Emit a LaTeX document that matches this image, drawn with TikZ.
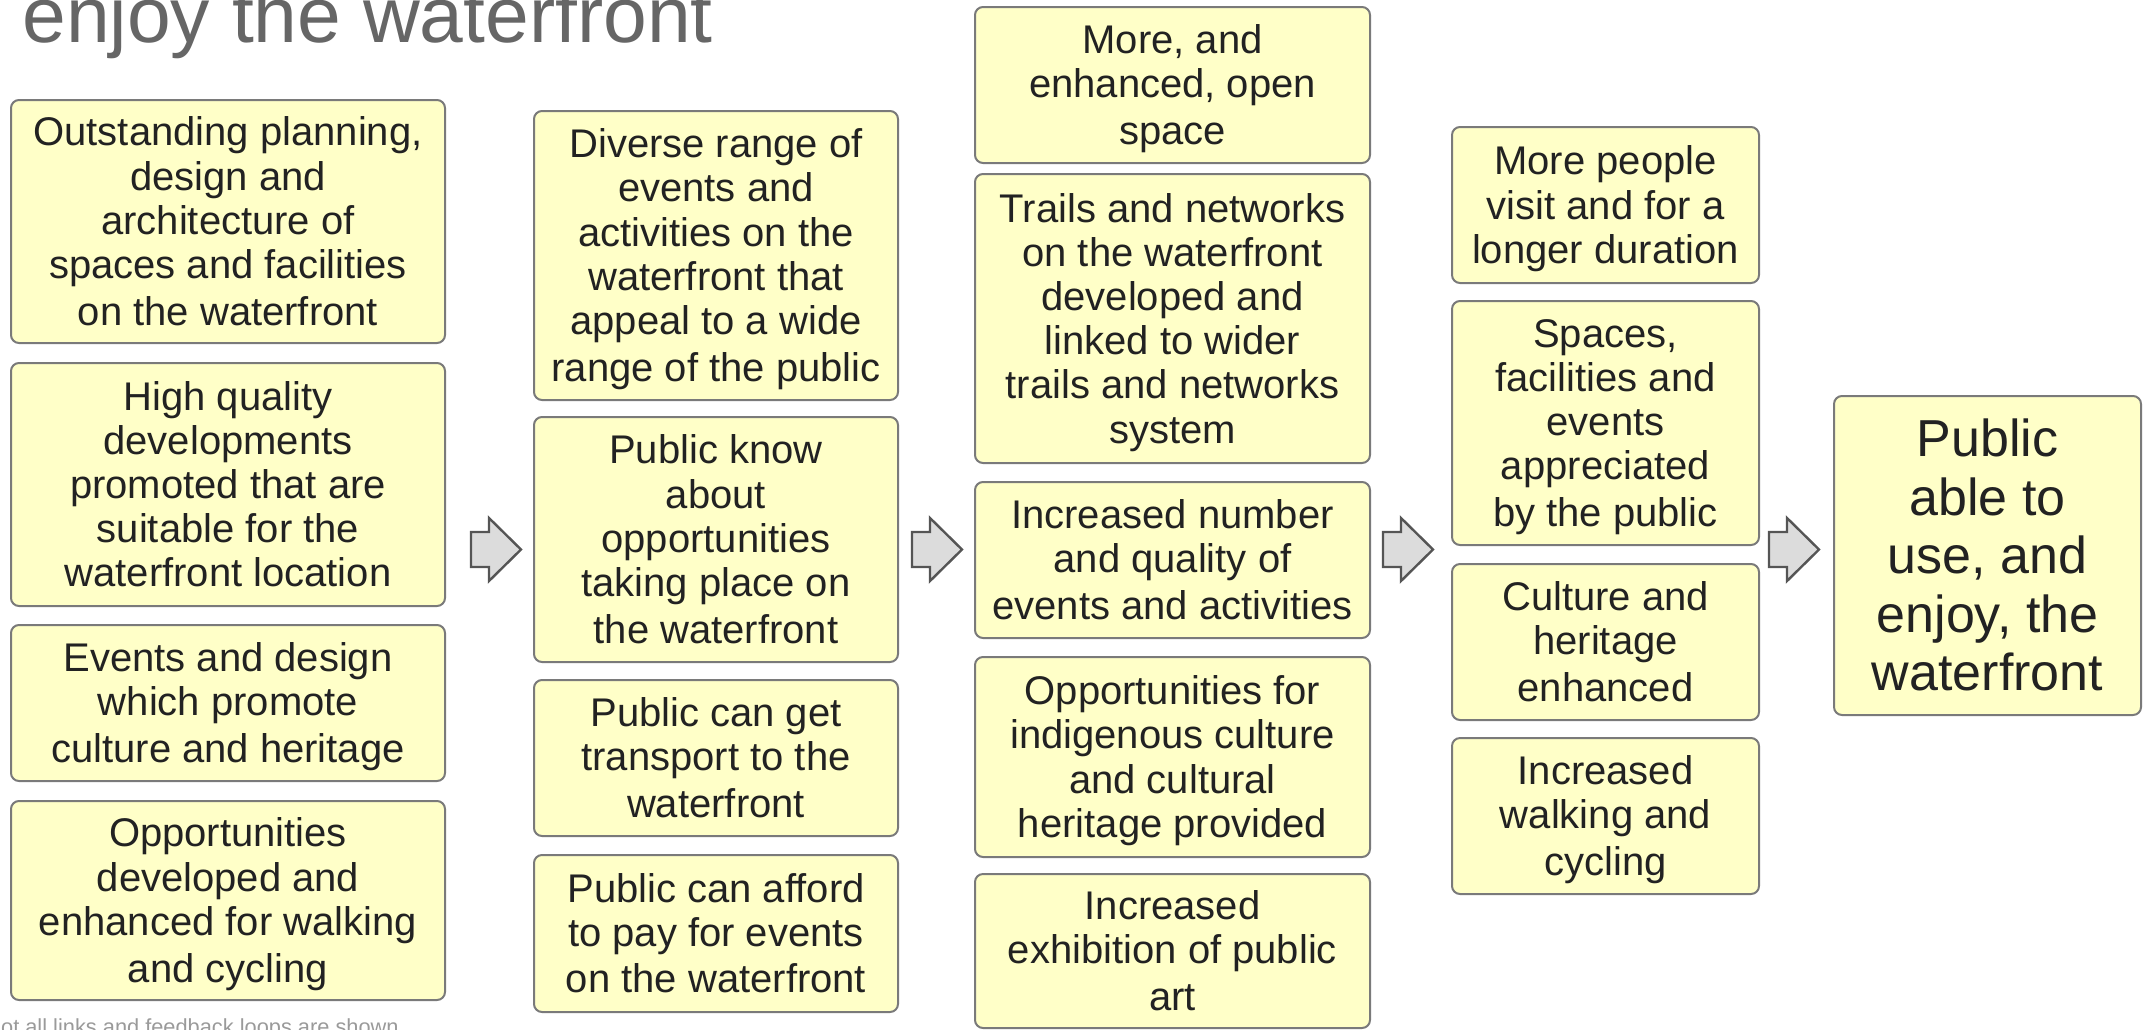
\documentclass[tikz,border=0pt]{standalone}
\usepackage{fontspec}
\setmainfont{Liberation Sans}
\definecolor{boxfill}{HTML}{FFFFC8}
\definecolor{boxline}{HTML}{7A7A7A}
\definecolor{txt}{HTML}{222222}
\definecolor{arrfill}{HTML}{DCDCDC}
\definecolor{arrline}{HTML}{555555}
\definecolor{titlec}{HTML}{666666}
\definecolor{notec}{HTML}{9A9A9A}
\newcommand{\ms}{\rule[-0.21em]{0pt}{1.12em}}
\newcommand{\bt}[1]{\ms#1\ms}
\tikzset{
  box/.style={draw=boxline, fill=boxfill, line width=1pt, rounded corners=4pt,
    align=center, inner sep=0pt, text=txt,
    font=\fontsize{20}{22.1}\selectfont},
  bigbox/.style={box, font=\fontsize{26}{29.25}\selectfont},
  blockarr/.style={draw=arrline, fill=arrfill, line width=1.2pt, line join=miter}
}
\begin{document}
\begin{tikzpicture}[x=0.5pt, y=-0.5pt]
\useasboundingbox (0,0) rectangle (2146,1029);
% title and note
\node[anchor=base west, inner sep=0pt, text=titlec, font=\fontsize{39.3}{45}\selectfont] (title) at (22,42) {enjoy the waterfront};
\node[anchor=base west, inner sep=0pt, text=notec, font=\fontsize{10.9}{13}\selectfont] (note) at (-15,1034) {Not all links and feedback loops are shown};
% column A
\node[box, minimum width=217pt, minimum height=121.5pt] (A1) at (228,221.5) {\bt{Outstanding planning,\\design and\\architecture of\\spaces and facilities\\on the waterfront}};
\node[box, minimum width=217pt, minimum height=121.5pt] (A2) at (228,484.5) {\bt{High quality\\developments\\promoted that are\\suitable for the\\waterfront location}};
\node[box, minimum width=217pt, minimum height=78pt] (A3) at (228,703) {\bt{Events and design\\which promote\\culture and heritage}};
\node[box, minimum width=217pt, minimum height=99.5pt] (A4) at (228,900.5) {\bt{Opportunities\\developed and\\enhanced for walking\\and cycling}};
% column B
\node[box, minimum width=182pt, minimum height=144.5pt] (B1) at (716,255.5) {\bt{Diverse range of\\events and\\activities on the\\waterfront that\\appeal to a wide\\range of the public}};
\node[box, minimum width=182pt, minimum height=122.5pt] (B2) at (716,539.5) {\bt{Public know\\about\\opportunities\\taking place on\\the waterfront}};
\node[box, minimum width=182pt, minimum height=78pt] (B3) at (716,758) {\bt{Public can get\\transport to the\\waterfront}};
\node[box, minimum width=182pt, minimum height=78.5pt] (B4) at (716,933.5) {\bt{Public can afford\\to pay for events\\on the waterfront}};
% column C
\node[box, minimum width=197.5pt, minimum height=78pt] (C1) at (1172.5,85) {\bt{More, and\\enhanced, open\\space}};
\node[box, minimum width=197.5pt, minimum height=144.5pt] (C2) at (1172.5,318.5) {\bt{Trails and networks\\on the waterfront\\developed and\\linked to wider\\trails and networks\\system}};
\node[box, minimum width=197.5pt, minimum height=78pt] (C3) at (1172.5,560) {\bt{Increased number\\and quality of\\events and activities}};
\node[box, minimum width=197.5pt, minimum height=100pt] (C4) at (1172.5,757) {\bt{Opportunities for\\indigenous culture\\and cultural\\heritage provided}};
\node[box, minimum width=197.5pt, minimum height=77pt] (C5) at (1172.5,951) {\bt{Increased\\exhibition of public\\art}};
% column D
\node[box, minimum width=153.5pt, minimum height=78pt] (D1) at (1605.5,205) {\bt{More people\\visit and for a\\longer duration}};
\node[box, minimum width=153.5pt, minimum height=122pt] (D2) at (1605.5,423) {\bt{Spaces,\\facilities and\\events\\appreciated\\by the public}};
\node[box, minimum width=153.5pt, minimum height=78pt] (D3) at (1605.5,642) {\bt{Culture and\\heritage\\enhanced}};
\node[box, minimum width=153.5pt, minimum height=78pt] (D4) at (1605.5,816) {\bt{Increased\\walking and\\cycling}};
% final outcome
\node[bigbox, minimum width=153.5pt, minimum height=159.5pt] (E) at (1987.5,555.5) {\bt{Public\\able to\\use, and\\enjoy, the\\waterfront}};
% block arrows
\coordinate (arr1) at (471,549.5);
\coordinate (arr2) at (912,549.5);
\coordinate (arr3) at (1383,549.5);
\coordinate (arr4) at (1769,549.5);
\foreach \a in {arr1,arr2,arr3,arr4}{
  \draw[blockarr, shift={(\a)}] (0,-17.5) -- (18,-17.5) -- (18,-31.5) -- (50,0) -- (18,31.5) -- (18,17.5) -- (0,17.5) -- cycle;
}
\end{tikzpicture}
\end{document}
